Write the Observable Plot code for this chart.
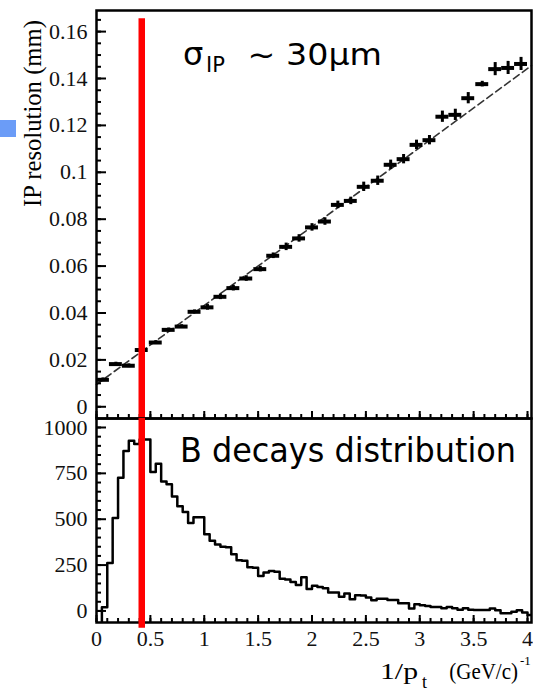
<!DOCTYPE html>
<html><head><meta charset="utf-8">
<script src="https://cdn.jsdelivr.net/npm/d3@7"></script>
<script src="https://cdn.jsdelivr.net/npm/@observablehq/plot@0.6"></script>
<style>
html,body{margin:0;padding:0;background:#fff;}
#wrap{position:relative;width:533px;height:692px;overflow:hidden;background:#fff;}
#wrap svg{position:absolute;left:0;}
svg.rootplot text, svg.rootplot tspan { font-family: "Liberation Serif", "Times New Roman", serif !important; font-size: 22px !important; fill: #111 !important; }
</style></head><body><div id="wrap"></div>
<script>
// ---------- data ----------
// IP resolution vs 1/pt (upper panel)
const ipX = [0.06, 0.18, 0.30, 0.42, 0.55, 0.67, 0.79, 0.91, 1.03, 1.15, 1.27, 1.39, 1.52, 1.64, 1.76, 1.88, 2.00,
             2.12, 2.24, 2.36, 2.48, 2.61, 2.73, 2.85, 2.97, 3.09, 3.21, 3.33, 3.45, 3.58, 3.70, 3.82, 3.94];
const ipY = [0.0115, 0.0182, 0.0175, 0.0242, 0.0274, 0.0328, 0.0342, 0.0405, 0.0424, 0.0469, 0.0506, 0.0547,
             0.0587, 0.0644, 0.0682, 0.0718, 0.0765, 0.0790, 0.0861, 0.0878, 0.0938, 0.0964, 0.1032, 0.1056,
             0.1117, 0.1137, 0.1237, 0.1245, 0.1316, 0.1376, 0.1440, 0.1445, 0.1462];
const ipXErr = 0.06;
const ipYErr = [0.0008, 0.0008, 0.0008, 0.0008, 0.0008, 0.0008, 0.0008, 0.0008, 0.0012, 0.0012, 0.0012, 0.0012,
                0.0012, 0.0012, 0.0016, 0.0016, 0.0016, 0.0016, 0.0016, 0.0016, 0.0020, 0.0020, 0.0020, 0.0020,
                0.0020, 0.0020, 0.0024, 0.0024, 0.0024, 0.0012, 0.0028, 0.0028, 0.0028];
// dashed fit line end points
const fitX = [0, 4.037];
const fitY = [0.0095, 0.1455];

// B decays distribution (lower panel), bin lower edges and contents
const histX = [0.00, 0.05, 0.10, 0.15, 0.20, 0.25, 0.30, 0.35, 0.40, 0.45,
               0.50, 0.55, 0.60, 0.65, 0.70, 0.75, 0.80, 0.85, 0.90, 0.95,
               1.00, 1.05, 1.10, 1.15, 1.20, 1.25, 1.30, 1.35, 1.40, 1.45,
               1.50, 1.55, 1.60, 1.65, 1.70, 1.75, 1.80, 1.85, 1.90, 1.95,
               2.00, 2.05, 2.10, 2.15, 2.20, 2.25, 2.30, 2.35, 2.40, 2.45,
               2.50, 2.55, 2.60, 2.65, 2.70, 2.75, 2.80, 2.85, 2.90, 2.95,
               3.00, 3.05, 3.10, 3.15, 3.20, 3.25, 3.30, 3.35, 3.40, 3.45,
               3.50, 3.55, 3.60, 3.65, 3.70, 3.75, 3.80, 3.85, 3.90, 3.95,
               4.00];
const histY = [-70, 20, 262, 506, 726, 872, 928, 910, 935, 935,
               758, 803, 705, 690, 624, 570, 539, 480, 511, 511,
               418, 382, 362, 350, 347, 309, 276, 274, 238, 236,
               191, 209, 218, 214, 175, 172, 158, 142, 184, 120,
               137, 131, 124, 100, 100, 78, 95, 64, 86, 84,
               73, 58, 67, 66, 60, 60, 42, 42, 13, 36,
               31, 27, 22, 22, 14, 22, 14, 6, 14, 6,
               5, 5, 5, 13, 4, -13, -13, -4, 4, -9,
               -22];
const histEnd = 4.05;

// vertical red marker
const redX = 0.42;
const redTopValue = 0.1655;   // upper panel, top end
const redBottomValue = -95;   // lower panel, bottom end

// tick labels
const xTickValues = [0, 0.5, 1, 1.5, 2, 2.5, 3, 3.5, 4];
const xTickLabels = ["0", "0.5", "1", "1.5", "2", "2.5", "3", "3.5", "4"];
const yTopTickValues = [0, 0.02, 0.04, 0.06, 0.08, 0.1, 0.12, 0.14, 0.16];
const yTopTickLabels = ["0", "0.02", "0.04", "0.06", "0.08", "0.1", "0.12", "0.14", "0.16"];
const yBotTickValues = [0, 250, 500, 750, 1000];
const yBotTickLabels = ["0", "250", "500", "750", "1000"];

// ---------- chart ----------
const xDomain = [0, 4.037];
const yTopDomain = [-0.005, 0.169];
const yBotDomain = [-63, 1049];
const xMinor = d3.range(0, 4.001, 0.1).map(v => +v.toFixed(2));
const yTopMinor = d3.range(0, 0.1651, 0.005).map(v => +v.toFixed(3));
const yBotMinor = d3.range(0, 1001, 50);

const lab = (vals, labels) => d => labels[vals.findIndex(v => Math.abs(v - d) < 1e-9)];
const blank = () => "";
const serif = "'Liberation Serif', 'Times New Roman', serif";
const common = {
  width: 533, marginLeft: 96, marginRight: 2,
  className: "rootplot",
  style: {background: "transparent", overflow: "visible"}
};

const points = ipX.map((x, i) => ({x, y: ipY[i], e: ipYErr[i]}));
const fit = fitX.map((x, i) => ({x, y: fitY[i]}));
const hist = histX.map((x, i) => ({x, y: histY[i]})).concat([{x: histEnd, y: histY[histY.length - 1]}]);

function frameAxes(yMajor, yMinor, yLabelFn, withXLabels) {
  const m = [
    Plot.axisY({ticks: yMajor, tickSize: 0, tickPadding: 9, tickFormat: yLabelFn, label: null, fontSize: 22, fontFamily: serif}),
    Plot.axisY({ticks: yMajor, tickSize: 10, dx: 10, tickFormat: blank, label: null, strokeWidth: 2}),
    Plot.axisY({ticks: yMinor, tickSize: 5, dx: 5, tickFormat: blank, label: null, strokeWidth: 2}),
    Plot.axisX({ticks: xTickValues, anchor: "bottom", tickSize: 7, dy: -7, tickFormat: blank, label: null, strokeWidth: 2}),
    Plot.axisX({ticks: xMinor, anchor: "bottom", tickSize: 4, dy: -4, tickFormat: blank, label: null, strokeWidth: 2})
  ];
  if (withXLabels) m.push(Plot.axisX({ticks: xTickValues, anchor: "bottom", tickSize: 0, tickPadding: 8,
                                       tickFormat: lab(xTickValues, xTickLabels), label: null, fontSize: 22, fontFamily: serif}));
  m.push(Plot.frame({stroke: "#000", strokeWidth: 2.5}));
  return m;
}

const topPlot = Plot.plot({
  ...common,
  height: 418, marginTop: 10, marginBottom: 0,
  x: {domain: xDomain},
  y: {domain: yTopDomain},
  marks: [
    Plot.line(fit, {x: "x", y: "y", stroke: "#333", strokeWidth: 1.6, strokeDasharray: "7,4"}),
    Plot.ruleY(points, {y: "y", x1: d => d.x - ipXErr, x2: d => d.x + ipXErr, stroke: "#000", strokeWidth: 4}),
    Plot.ruleX(points, {x: "x", y1: d => d.y - d.e, y2: d => d.y + d.e, stroke: "#000", strokeWidth: 3}),
    ...frameAxes(yTopTickValues, yTopMinor, lab(yTopTickValues, yTopTickLabels), false),
    Plot.ruleX([redX], {x: d => d, y1: redTopValue, y2: yTopDomain[0], stroke: "#ff0000", strokeWidth: 6.5})
  ]
});
topPlot.style.top = "0px";

const botPlot = Plot.plot({
  ...common,
  height: 274, marginTop: 0, marginBottom: 70,
  x: {domain: xDomain},
  y: {domain: yBotDomain},
  marks: [
    Plot.line(hist, {x: "x", y: "y", curve: "step-after", stroke: "#000", strokeWidth: 2.5, clip: true}),
    ...frameAxes(yBotTickValues, yBotMinor, lab(yBotTickValues, yBotTickLabels), true),
    Plot.ruleX([redX], {x: d => d, y1: yBotDomain[1], y2: redBottomValue, stroke: "#ff0000", strokeWidth: 6.5})
  ]
});
botPlot.style.top = "418px";

const wrap = document.getElementById("wrap");
wrap.appendChild(topPlot);
wrap.appendChild(botPlot);

// serif tick labels (ROOT style), enforced on every text node
for (const p of [topPlot, botPlot]) {
  p.classList.add("rootplot");
  p.querySelectorAll("text").forEach(t => {
    t.setAttribute("font-family", serif);
    t.style.setProperty("font-family", serif, "important");
  });
}

// ---------- annotations overlay ----------
const ov = d3.create("svg").attr("width", 533).attr("height", 692)
  .style("top", "0px").style("pointer-events", "none").style("overflow", "visible");

ov.append("rect").attr("x", 0).attr("y", 120).attr("width", 16).attr("height", 17).attr("fill", "#6b9cf7");

ov.append("text")
  .attr("transform", "translate(41,20) rotate(-90)")
  .attr("text-anchor", "end")
  .attr("font-family", serif).attr("font-size", 25)
  .attr("textLength", 187).attr("lengthAdjust", "spacingAndGlyphs")
  .attr("fill", "#000")
  .text("IP resolution (mm)");

const sig = ov.append("text").attr("font-family", "DejaVu Sans, sans-serif").attr("fill", "#000");
sig.append("tspan").attr("x", 183).attr("y", 65).attr("font-size", 32).text("σ");
sig.append("tspan").attr("x", 206).attr("y", 72).attr("font-size", 21).text("IP");
sig.append("tspan").attr("x", 237).attr("y", 65).attr("font-size", 31)
   .attr("textLength", 145).attr("lengthAdjust", "spacingAndGlyphs").text(" ~ 30μm");

ov.append("text").attr("x", 180).attr("y", 462)
  .attr("font-family", "DejaVu Sans, sans-serif").attr("font-size", 34).attr("fill", "#000")
  .attr("textLength", 336).attr("lengthAdjust", "spacingAndGlyphs")
  .text("B decays distribution");

const xt = ov.append("text").attr("font-family", serif).attr("fill", "#000");
xt.append("tspan").attr("x", 380).attr("y", 679).attr("font-size", 24)
  .attr("textLength", 38).attr("lengthAdjust", "spacingAndGlyphs").text("1/p");
xt.append("tspan").attr("x", 422).attr("y", 688).attr("font-size", 18).text("t");
xt.append("tspan").attr("x", 444).attr("y", 679).attr("font-size", 23)
  .attr("textLength", 74).attr("lengthAdjust", "spacingAndGlyphs").text(" (GeV/c)");
xt.append("tspan").attr("x", 520).attr("y", 665).attr("font-size", 13).text("-1");

wrap.appendChild(ov.node());
</script></body></html>
